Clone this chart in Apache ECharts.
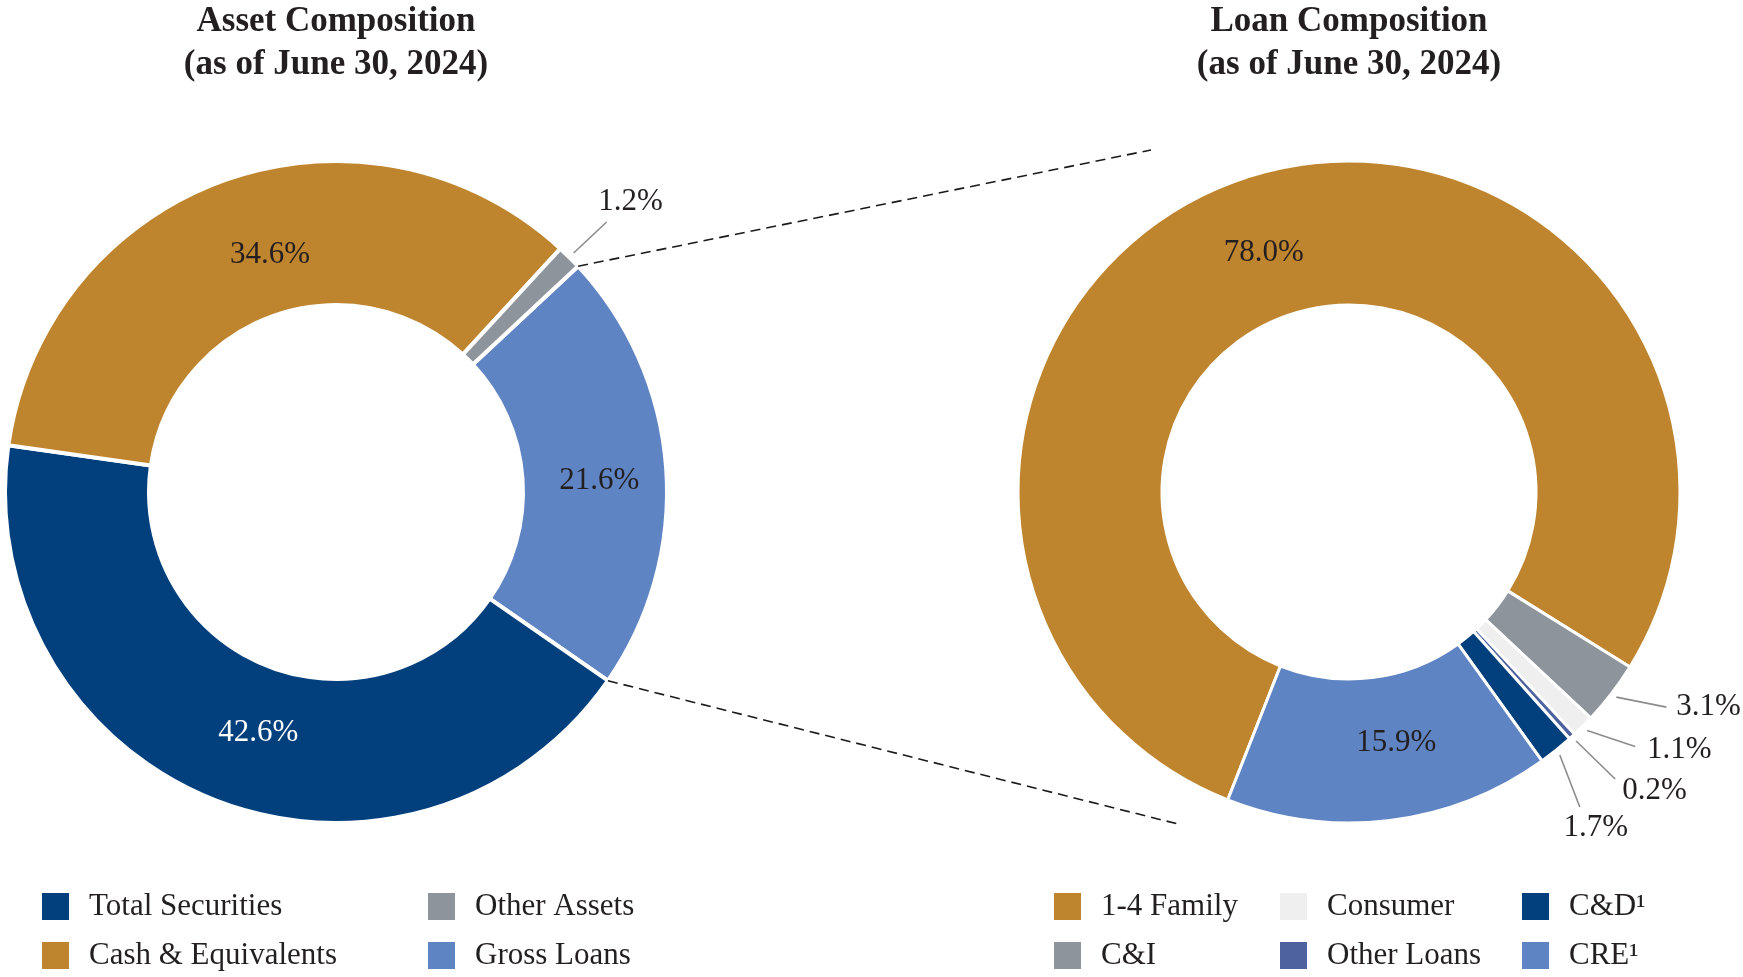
<!DOCTYPE html>
<html>
<head>
<meta charset="utf-8">
<script src="https://cdn.jsdelivr.net/npm/echarts@6/dist/echarts.min.js"></script>
<style>
  html, body { margin: 0; padding: 0; background: #ffffff; }
  #chart { width: 1743px; height: 977px; }
</style>
</head>
<body>
<div id="chart"></div>
<script>
// ---------------- DATA ----------------
const assetTitle = 'Asset Composition\n(as of June 30, 2024)';
const loanTitle = 'Loan Composition\n(as of June 30, 2024)';

// clockwise order starting at the Other Assets / Gross Loans boundary
const assetNames = ['Gross Loans', 'Total Securities', 'Cash & Equivalents', 'Other Assets'];
const assetValues = [21.6, 42.6, 34.6, 1.2];

// clockwise order starting at the CRE / 1-4 Family boundary
const loanNames = ['1-4 Family', 'C&I', 'Consumer', 'Other Loans', 'C&D\u00B9', 'CRE\u00B9'];
const loanValues = [78.0, 3.1, 1.1, 0.2, 1.7, 15.9];

// legend ordering (as arranged in the picture)
const assetLegend = ['Total Securities', 'Other Assets', 'Cash & Equivalents', 'Gross Loans'];
const loanLegend = ['1-4 Family', 'Consumer', 'C&D\u00B9', 'C&I', 'Other Loans', 'CRE\u00B9'];

// ---------------- STYLE / LAYOUT ----------------
const FONT = "'Liberation Serif', 'Times New Roman', serif";
const TEXT = '#231F20';
const colors = {
  'Total Securities': '#023F7D',
  'Cash & Equivalents': '#BF842E',
  'Other Assets': '#8E949C',
  'Gross Loans': '#5F84C3',
  '1-4 Family': '#BF842E',
  'C&I': '#8E949C',
  'Consumer': '#EFEFEF',
  'Other Loans': '#4E62A0',
  'C&D\u00B9': '#023F7D',
  'CRE\u00B9': '#5F84C3'
};
const CY = 492, R_IN = 187, R_OUT = 331;
const LEFT_CX = 336, RIGHT_CX = 1349;
const ASSET_START = 43, LOAN_START = 248.5;

// label placement styles
const labelCfg = {
  'Cash & Equivalents': { type: 'inside', dx: 22, dy: 10, color: TEXT },
  'Gross Loans': { type: 'inside', dx: 2, dy: 8, color: TEXT },
  'Total Securities': { type: 'inside', dx: 18, dy: -3, color: '#FFFFFF' },
  'Other Assets': { type: 'outside', gap: 6, vec: [33, -31], tx: 24, ty: -20, align: 'center' },
  '1-4 Family': { type: 'inside', dx: -3, dy: 10, color: TEXT },
  'CRE\u00B9': { type: 'inside', dx: 15, dy: -9, color: TEXT },
  'C&I': { type: 'outside', gap: 6, vec: [50, 10], tx: 10, ty: 0, align: 'left' },
  'Consumer': { type: 'outside', gap: 6, vec: [48, 16], tx: 12, ty: 3, align: 'left' },
  'Other Loans': { type: 'outside', gap: 6, vec: [39, 38], tx: 7, ty: 12, align: 'left' },
  'C&D\u00B9': { type: 'outside', gap: 6, vec: [20, 52], tx: 16, ty: 21, align: 'center' }
};

function buildData(names, values) {
  return names.map(function (n, i) {
    const c = labelCfg[n] || {};
    const item = { name: n, value: values[i], itemStyle: { color: colors[n] } };
    if (c.type === 'inside') {
      item.label = { position: 'inside', color: c.color };
      item.labelLine = { show: false };
    } else {
      item.label = { position: 'outside', color: TEXT };
      item.labelLine = { show: true };
    }
    return item;
  });
}

function makeLabelLayout(names) {
  return function (params) {
    const c = labelCfg[names[params.dataIndex]];
    if (!c) return {};
    const r = params.labelRect;
    if (c.type === 'inside') {
      return {
        x: r.x + r.width / 2 + c.dx,
        y: r.y + r.height / 2 + c.dy,
        align: 'center', verticalAlign: 'middle'
      };
    }
    const pts = params.labelLinePoints;
    if (!pts) return {};
    const p0 = pts[0], p1 = pts[1];
    const ux = p1[0] - p0[0], uy = p1[1] - p0[1];
    const l = Math.hypot(ux, uy) || 1;
    const s = [p0[0] + ux / l * c.gap, p0[1] + uy / l * c.gap];
    const e = [s[0] + c.vec[0], s[1] + c.vec[1]];
    return {
      x: e[0] + c.tx, y: e[1] + c.ty,
      align: c.align, verticalAlign: 'middle',
      labelLinePoints: [s, e]
    };
  };
}

function pieSeries(names, values, cx, start, border, minAngle) {
  return {
    type: 'pie',
    center: [cx, CY],
    radius: [R_IN, R_OUT],
    startAngle: start,
    clockwise: true,
    minAngle: minAngle,
    avoidLabelOverlap: false,
    silent: true,
    itemStyle: { borderColor: '#FFFFFF', borderWidth: border },
    label: {
      show: true,
      fontFamily: FONT,
      fontSize: 31,
      color: TEXT,
      formatter: function (p) { return p.value.toFixed(1) + '%'; }
    },
    labelLine: { length: 10, length2: 10, lineStyle: { color: '#8C8C8C', width: 1.6 } },
    labelLayout: makeLabelLayout(names),
    data: buildData(names, values)
  };
}

// zoom connector lines from the Gross Loans slice edges
function edgePoint(cx, angleDeg) {
  const a = angleDeg * Math.PI / 180;
  return [cx + R_OUT * Math.cos(a), CY - R_OUT * Math.sin(a)];
}
const assetSum = assetValues.reduce(function (a, b) { return a + b; }, 0);
const gIdx = assetNames.indexOf('Gross Loans');
let before = 0;
for (let i = 0; i < gIdx; i++) before += assetValues[i];
const gA0 = ASSET_START - before / assetSum * 360;
const gA1 = gA0 - assetValues[gIdx] / assetSum * 360;
const pTop = edgePoint(LEFT_CX, gA0);
const pBot = edgePoint(LEFT_CX, gA1);
const connectorEnds = [[1151, 150], [1178, 824]];

function legendItems(list, positions) {
  return list.map(function (n, i) {
    return {
      left: positions[i][0], top: positions[i][1],
      padding: 0,
      orient: 'horizontal',
      icon: 'rect',
      itemWidth: 29, itemHeight: 29,
      selectedMode: false,
      textStyle: { fontFamily: FONT, fontSize: 31, color: TEXT, padding: [0, 0, 0, 14] },
      data: [n]
    };
  });
}
const assetLegendPos = [[40, 891], [426, 891], [40, 940], [426, 940]];
const loanLegendPos = [[1052, 891], [1278, 891], [1520, 891], [1052, 940], [1278, 940], [1520, 940]];

const titleStyle = { fontFamily: FONT, fontWeight: 'bold', fontSize: 35, lineHeight: 43, color: TEXT };

const chart = echarts.init(document.getElementById('chart'), null, { renderer: 'canvas' });
chart.setOption({
  animation: false,
  backgroundColor: '#FFFFFF',
  title: [
    { text: assetTitle, left: LEFT_CX, top: 0, textAlign: 'center', padding: 0, textStyle: titleStyle },
    { text: loanTitle, left: RIGHT_CX, top: 0, textAlign: 'center', padding: 0, textStyle: titleStyle }
  ],
  legend: legendItems(assetLegend, assetLegendPos).concat(legendItems(loanLegend, loanLegendPos)),
  graphic: [
    { type: 'line', silent: true, z: 10,
      shape: { x1: pTop[0], y1: pTop[1], x2: connectorEnds[0][0], y2: connectorEnds[0][1] },
      style: { stroke: '#1A1A1A', lineWidth: 1.6, lineDash: [10, 6] } },
    { type: 'line', silent: true, z: 10,
      shape: { x1: pBot[0], y1: pBot[1], x2: connectorEnds[1][0], y2: connectorEnds[1][1] },
      style: { stroke: '#1A1A1A', lineWidth: 1.6, lineDash: [10, 6] } }
  ],
  series: [
    pieSeries(assetNames, assetValues, LEFT_CX, ASSET_START, 4, 0),
    pieSeries(loanNames, loanValues, RIGHT_CX, LOAN_START, 3, 1.2)
  ]
});
</script>
</body>
</html>
